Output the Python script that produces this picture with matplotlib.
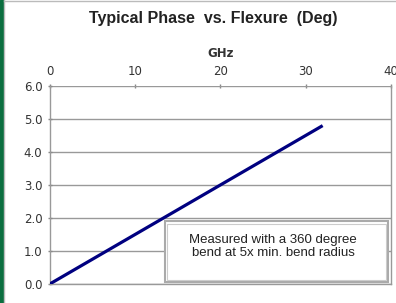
import matplotlib.pyplot as plt
from matplotlib.patches import Rectangle
from matplotlib.lines import Line2D

# data
freq_ghz = [0, 32]
phase_deg = [0.0, 4.8]
x_ticks = [0, 10, 20, 30, 40]
y_ticks = [0.0, 1.0, 2.0, 3.0, 4.0, 5.0, 6.0]
note = "Measured with a 360 degree\nbend at 5x min. bend radius"

fig = plt.figure(figsize=(3.96, 3.03), dpi=100)
ax = fig.add_axes([0.126, 0.063, 0.861, 0.653])

# frame decorations: green strip on the left, thin grey border
fig.patches.append(Rectangle((0, 0), 0.008, 1, transform=fig.transFigure,
                             color='#0b6e3f', zorder=0))
fig.lines.append(Line2D([0.010, 0.010], [0, 1], transform=fig.transFigure,
                        color='#bbbbbb', lw=1))
fig.lines.append(Line2D([0.010, 1], [0.998, 0.998], transform=fig.transFigure,
                        color='#bbbbbb', lw=1))

ax.plot(freq_ghz, phase_deg, color='#000080', lw=2.3, solid_capstyle='butt', zorder=3)

ax.set_xlim(0, 40)
ax.set_ylim(0, 6)
ax.set_xticks(x_ticks)
ax.set_yticks(y_ticks)
ax.set_yticklabels([f"{v:.1f}" for v in y_ticks])
ax.xaxis.tick_top()
ax.xaxis.set_label_position('top')
ax.set_xlabel('GHz', fontsize=8.5, fontweight='bold', color='#333333', labelpad=6)
ax.tick_params(axis='both', labelsize=8.5, colors='#888888', labelcolor='#333333',
               length=3, width=1, direction='inout')
ax.tick_params(axis='x', pad=4)
ax.tick_params(axis='y', pad=4)

ax.grid(True, axis='y', color='#999999', lw=1)
ax.grid(False, axis='x')
for s in ['left', 'right', 'bottom']:
    ax.spines[s].set_color('#999999')
    ax.spines[s].set_linewidth(1)
ax.spines['top'].set_visible(False)

fig.text(0.538, 0.94, 'Typical Phase  vs. Flexure  (Deg)', ha='center', va='center',
         fontsize=11.5, fontweight='bold', family='Liberation Sans', color='#222222')

# annotation box with double grey border
ax.add_patch(Rectangle((13.5, 0.06), 26.2, 1.84, facecolor='white',
                       edgecolor='#aaaaaa', lw=1.5, zorder=4))
ax.add_patch(Rectangle((13.75, 0.13), 25.7, 1.7, facecolor='white',
                       edgecolor='#cccccc', lw=0.8, zorder=4))
ax.text(26.2, 1.14, note, ha='center', va='center', fontsize=9.5,
        family='Liberation Sans', color='#222222', linespacing=1.15, zorder=5)

fig.savefig('out.png', dpi=100)
